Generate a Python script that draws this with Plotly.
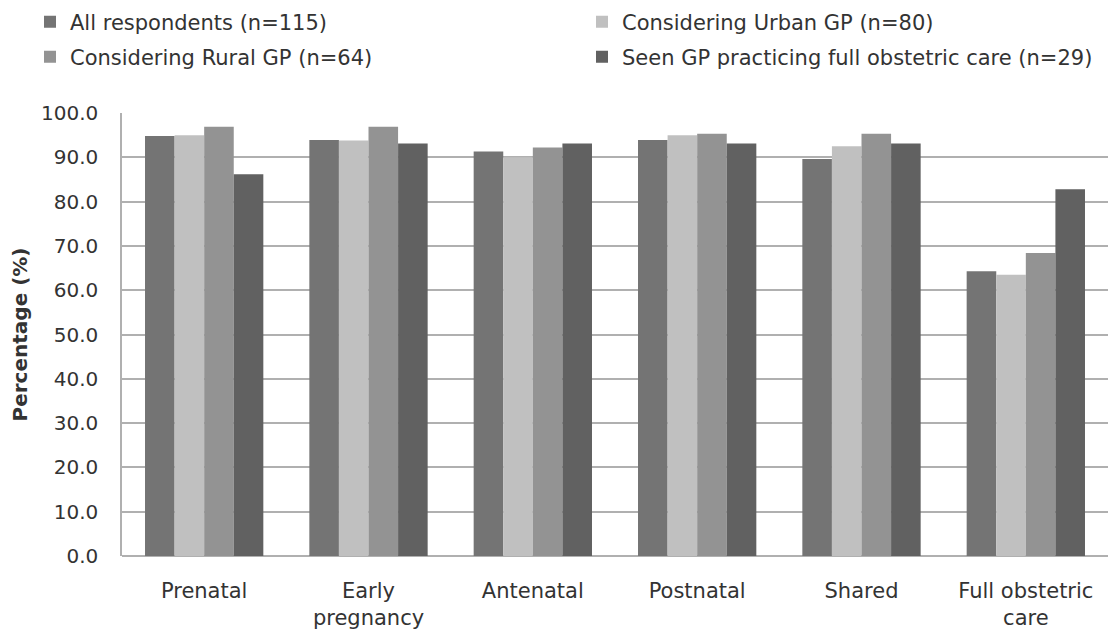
import plotly.graph_objects as go

categories = ["Prenatal", "Early<br>pregnancy", "Antenatal", "Postnatal", "Shared", "Full obstetric<br>care"]
series_names = [
    "All respondents (n=115)",
    "Considering Urban GP (n=80)",
    "Considering Rural GP (n=64)",
    "Seen GP practicing full obstetric care (n=29)",
]
all_resp = [94.8, 93.9, 91.3, 93.9, 89.6, 64.3]
urban_gp = [95.0, 93.8, 90.0, 95.0, 92.5, 63.5]
rural_gp = [96.9, 96.9, 92.2, 95.3, 95.3, 68.4]
seen_gp = [86.2, 93.1, 93.1, 93.1, 93.1, 82.8]
series_values = [all_resp, urban_gp, rural_gp, seen_gp]
colors = ["#747474", "#c0c0c0", "#939393", "#616161"]
legend_ids = ["legend", "legend2", "legend3", "legend4"]
y_ticks = [0, 10, 20, 30, 40, 50, 60, 70, 80, 90, 100]

font_family = "DejaVu Sans, Verdana, sans-serif"
text_color = "#333333"

# the page body adds an 8px offset; figure is sized so plot lands where the reference has it
W, H = 1112, 621

fig = go.Figure()
for name, vals, col, lg in zip(series_names, series_values, colors, legend_ids):
    fig.add_trace(go.Bar(
        x=categories, y=vals, name=name, legend=lg,
        marker=dict(color=col, line=dict(width=0)),
    ))

def legend_at(px, py):
    return dict(
        orientation="h", xref="container", yref="container",
        x=px / W, y=1 - py / H, xanchor="left", yanchor="middle",
        font=dict(family=font_family, size=21, color=text_color),
        itemwidth=30, bgcolor="rgba(0,0,0,0)",
    )

fig.update_layout(
    width=W, height=H,
    barmode="group", bargap=0.28, bargroupgap=0,
    plot_bgcolor="white", paper_bgcolor="white",
    margin=dict(l=114, r=12, t=105, b=73, autoexpand=False),
    font=dict(family=font_family, size=20, color=text_color),
    legend=legend_at(22, 14),
    legend2=legend_at(574, 14),
    legend3=legend_at(22, 49),
    legend4=legend_at(574, 49),
    showlegend=True,
)
fig.update_xaxes(
    showline=False, showgrid=False, ticks="",
    ticklabelstandoff=20, automargin=False,
    tickfont=dict(family=font_family, size=21, color=text_color),
)
fig.update_yaxes(
    range=[0, 100], tickvals=y_ticks,
    ticktext=[f"{v:.1f}" for v in y_ticks],
    showgrid=True, gridcolor="#b0b0b0", gridwidth=1.5,
    showline=True, linecolor="#b0b0b0", linewidth=1.5,
    zeroline=True, zerolinecolor="#b0b0b0", zerolinewidth=1.5,
    ticks="", ticklabelstandoff=18, automargin=False,
    tickfont=dict(family=font_family, size=20, color=text_color),
    title=dict(text="<b>Percentage (%)</b>", standoff=12,
               font=dict(family=font_family, size=20, color=text_color)),
)

fig.write_html("out.html")
